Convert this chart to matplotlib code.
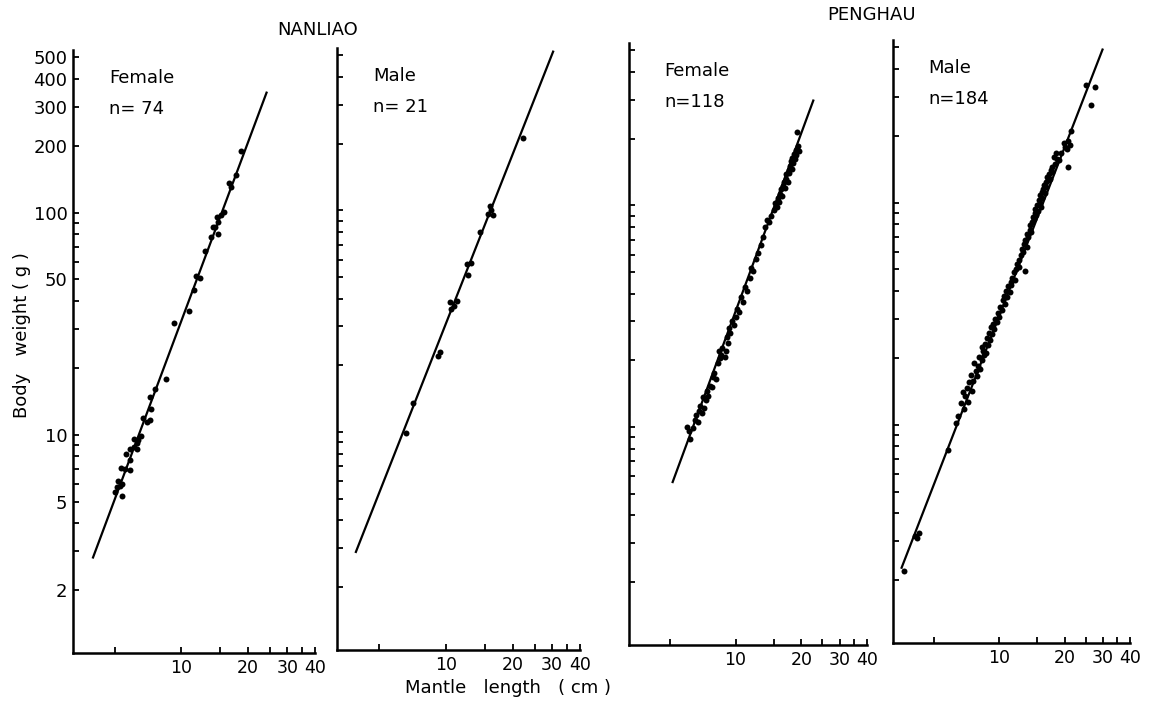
"""
Length-weight relationship (log-log) for squid, Nanliao and Penghau samples.
"""
import numpy as np
import matplotlib.pyplot as plt

# ---- data (mantle length cm, body weight g) ----
nanliao_female_len = [18.6, 17.7, 16.4, 16.8, 15.5, 15.1, 14.4, 14.7, 14.2, 13.9,
                      14.7, 13.6, 12.8, 11.6, 12.1, 11.4, 10.8, 9.3, 8.5, 7.6,
                      7.2, 7.3, 6.7, 7.2, 7.0, 6.6, 6.4, 6.1, 6.3, 6.1,
                      6.3, 5.9, 5.65, 5.9, 5.37, 5.6, 5.9, 5.2, 5.4, 5.3,
                      5.05, 5.15, 5.4]
nanliao_female_wt = [190, 148, 136, 131, 101, 98, 96, 91, 86, 86,
                     80, 78, 67, 52, 51, 45, 36, 32, 17.9, 16.0,
                     14.8, 13.1, 11.9, 11.6, 11.4, 9.9, 9.5, 9.6, 9.2, 8.8,
                     8.6, 8.6, 8.2, 7.7, 7.1, 7.0, 6.95, 6.2, 6.0, 5.9,
                     5.5, 5.8, 5.3]

nanliao_male_len = [22.1, 15.8, 15.5, 16.3, 15.9, 14.3, 12.4, 13.0, 12.6, 10.4,
                    11.2, 10.6, 10.9, 9.4, 9.2, 7.1, 6.6]
nanliao_male_wt = [211, 105, 96, 95, 100, 80, 57, 58, 51, 38.5,
                   39, 36, 37, 22.9, 22, 13.5, 9.9]

penghau_female_len = [6.0, 6.2, 6.1, 6.4, 6.5, 6.6, 6.7, 6.8, 6.9, 7.0,
                      7.1, 7.2, 7.3, 7.4, 7.5, 7.6, 7.8, 7.9, 8.0, 8.1,
                      8.3, 8.4, 8.5, 8.6, 8.7, 8.9, 9.0, 9.1, 9.2, 9.3,
                      9.4, 9.6, 9.8, 10.0, 10.2, 10.4, 10.6, 10.8, 11.1, 11.3,
                      11.6, 11.8, 12.0, 12.4, 12.7, 13.1, 13.4, 13.7, 14.0, 14.3,
                      14.6, 15.0, 15.2, 15.4, 15.6, 15.8, 16.0, 16.1, 16.3, 16.5,
                      16.6, 16.8, 17.0, 17.1, 17.3, 17.5, 17.6, 17.8, 17.9, 18.1,
                      18.2, 18.4, 18.6, 18.7, 18.9, 19.0, 19.3, 19.5, 19.2]
penghau_female_wt = [10.0, 8.8, 9.6, 9.9, 10.8, 11.3, 10.5, 11.8, 12.4, 11.6,
                     13.6, 12.2, 13.2, 14.5, 13.8, 15.3, 15.2, 16.8, 17.5, 16.4,
                     19.5, 22.0, 20.5, 21.2, 22.8, 20.8, 22.0, 25.5, 24.0, 28.0,
                     26.5, 30.0, 29.0, 31.5, 34.0, 33.0, 38.5, 36.5, 43.0, 41.0,
                     47.0, 52.0, 50.5, 57.0, 61.0, 66.0, 72.0, 80.0, 86.0, 84.0,
                     90.0, 95.0, 102.0, 98.0, 108.0, 104.0, 113.0, 118.0, 110.0, 122.0,
                     127.0, 120.0, 132.0, 138.0, 128.0, 145.0, 140.0, 150.0, 158.0, 146.0,
                     163.0, 155.0, 170.0, 162.0, 178.0, 168.0, 185.0, 176.0, 215.0]

penghau_male_len = [3.67, 4.1, 4.2, 4.3, 5.8, 6.35, 6.5, 6.7, 6.9, 7.0,
                    7.1, 6.8, 7.2, 7.3, 7.5, 7.4, 7.6, 7.8, 7.7, 7.9,
                    8.0, 8.1, 8.2, 8.3, 8.4, 8.5, 8.3, 8.6, 8.7, 8.8,
                    8.9, 9.0, 9.1, 9.2, 9.3, 9.4, 9.5, 9.6, 9.8, 9.9,
                    10.0, 10.1, 10.3, 10.4, 10.5, 10.6, 10.8, 10.9, 11.0, 11.2,
                    11.3, 11.5, 11.4, 11.7, 11.8, 12.0, 12.1, 12.3, 12.4, 12.6,
                    12.7, 12.9, 13.0, 13.1, 13.2, 13.4, 13.5, 13.6, 13.8, 13.9,
                    14.0, 14.2, 14.3, 14.5, 14.6, 14.7, 14.8, 15.0, 15.1, 15.2,
                    15.4, 15.5, 15.6, 15.7, 15.8, 16.0, 16.1, 16.2, 16.4, 16.5,
                    16.6, 16.8, 17.0, 17.1, 17.3, 17.5, 17.6, 17.8, 18.0, 18.2,
                    18.5, 18.8, 19.2, 19.8, 20.2, 20.6, 20.8, 20.8, 21.2, 21.5,
                    25.1, 26.4, 27.5]
penghau_male_wt = [2.2, 3.15, 3.1, 3.25, 7.7, 10.2, 11.0, 12.5, 11.8, 13.5,
                   14.6, 14.0, 12.7, 15.5, 14.2, 16.8, 15.8, 17.5, 19.0, 16.5,
                   18.3, 20.2, 17.8, 19.5, 21.5, 20.5, 22.5, 23.0, 21.0, 24.5,
                   22.8, 26.0, 24.0, 27.5, 25.5, 28.5, 27.0, 30.0, 29.0, 32.0,
                   30.5, 34.0, 33.0, 36.5, 38.0, 35.0, 40.0, 37.5, 42.0, 39.5,
                   44.0, 46.0, 42.5, 48.5, 45.0, 50.0, 53.0, 55.0, 51.5, 58.0,
                   62.0, 60.0, 65.0, 49.0, 68.0, 63.0, 72.0, 70.0, 75.0, 79.0,
                   73.5, 82.0, 86.0, 84.0, 90.0, 94.0, 88.0, 98.0, 92.0, 103.0,
                   100.0, 108.0, 96.0, 112.0, 105.0, 115.0, 120.0, 110.0, 124.0, 118.0,
                   130.0, 126.0, 135.0, 128.0, 140.0, 145.0, 138.0, 160.0, 150.0, 168.0,
                   158.0, 156.0, 168.0, 186.0, 178.0, 175.0, 190.0, 145.0, 181.0, 211.0,
                   340.0, 276.0, 330.0]

# fitted regression lines, end points (length, weight)
line_nf = ([4.0, 24.2], [2.8, 347])
line_nm = ([3.95, 30.3], [2.88, 520])
line_pf = ([5.15, 22.7], [5.65, 297])
line_pm = ([3.56, 29.9], [2.27, 489])

y_ticks = [2, 3, 4, 5, 6, 7, 8, 9, 10, 20, 30, 40, 50, 60, 70, 80, 90,
           100, 200, 300, 400, 500]
y_labelled = [2, 5, 10, 50, 100, 200, 300, 400, 500]
x_ticks = [5, 10, 15, 20, 25, 30, 35, 40]
x_labelled = [10, 20, 30, 40]

W, H = 1151, 710


def px_axes(left, top, right, bottom):
    """Axes rectangle from pixel edges of the original scan."""
    return [left / W, (H - bottom) / H, (right - left) / W, (bottom - top) / H]


def draw_panel(ax, length, weight, line, sex, n_text, show_y=False):
    ax.set_xscale("log")
    ax.set_yscale("log")
    ax.plot(line[0], line[1], color="black", linewidth=1.6)
    ax.plot(length, weight, "o", color="black", markersize=4.3,
            markeredgewidth=0)
    ax.set_xlim(3.25, 40)
    ax.set_ylim(1.04, 540)

    for side in ("top", "right"):
        ax.spines[side].set_visible(False)
    for side in ("left", "bottom"):
        ax.spines[side].set_linewidth(1.8)

    ax.set_xticks(x_ticks)
    ax.set_xticklabels([str(t) if t in x_labelled else "" for t in x_ticks],
                       fontsize=12.5)
    ax.xaxis.set_minor_locator(plt.NullLocator())
    ax.set_yticks(y_ticks)
    if show_y:
        ax.set_yticklabels([str(t) if t in y_labelled else "" for t in y_ticks],
                           fontsize=13)
    else:
        ax.set_yticklabels([])
    ax.yaxis.set_minor_locator(plt.NullLocator())
    ax.tick_params(direction="in", length=4, width=1.3, pad=4)

    ax.text(0.15, 0.953, sex, transform=ax.transAxes, fontsize=13,
            va="center", ha="left")
    ax.text(0.15, 0.902, n_text, transform=ax.transAxes, fontsize=13,
            va="center", ha="left")


fig = plt.figure(figsize=(W / 100, H / 100), dpi=100)

ax1 = fig.add_axes(px_axes(73, 50, 315, 653))
ax2 = fig.add_axes(px_axes(337, 48, 580, 650))
ax3 = fig.add_axes(px_axes(629, 43, 867, 645))
ax4 = fig.add_axes(px_axes(893, 40, 1130, 643))

draw_panel(ax1, nanliao_female_len, nanliao_female_wt, line_nf,
           "Female", "n= 74", show_y=True)
draw_panel(ax2, nanliao_male_len, nanliao_male_wt, line_nm, "Male", "n= 21")
draw_panel(ax3, penghau_female_len, penghau_female_wt, line_pf,
           "Female", "n=118")
draw_panel(ax4, penghau_male_len, penghau_male_wt, line_pm, "Male", "n=184")

fig.text(318 / W, 1 - 30 / H, "NANLIAO", fontsize=13, ha="center", va="center")
fig.text(872 / W, 1 - 15 / H, "PENGHAU", fontsize=13, ha="center", va="center")
fig.text(508 / W, 1 - 688 / H, "Mantle   length   ( cm )", fontsize=13,
         ha="center", va="center")
fig.text(22 / W, 1 - 335 / H, "Body   weight ( g )", fontsize=13,
         ha="center", va="center", rotation=90)

fig.savefig("out.png", dpi=100)
